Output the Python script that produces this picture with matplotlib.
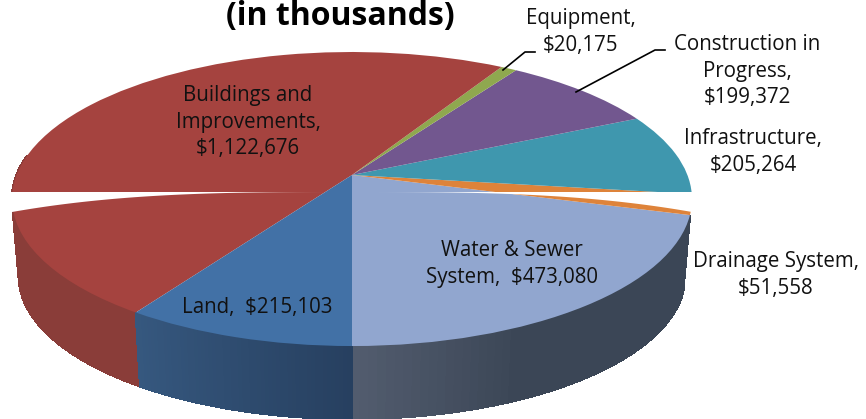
import numpy as np
from matplotlib import pyplot as plt
from matplotlib.colors import to_rgb
from matplotlib.transforms import Transform

# --------------------------- CHART DATA ---------------------------

names = ["Water & Sewer\nSystem,  ", "Drainage System,\n", "Infrastructure,\n",
         "Construction in\nProgress,\n", "Equipment,\n",
         "Buildings and\nImprovements,\n", "Land,  "]
values = [473080, 51558, 205264, 199372, 20175, 1122676, 215103]
colors = ["#91a6cf", "#de833a", "#3f97ae", "#72578f", "#8fa84f", "#a5433f", "#4271a6"]

# side wall colours, left end then right end of each visible slice
wall_colors = {0: ("#525c6e", "#3b4656"), 5: ("#8a3d39", "#8a3d39"), 6: ("#36587f", "#274060")}
wall_fade = {0: 3.0, 5: 1.0, 6: 1.0}
label_pos = [(512, 264), (776, 275), (753, 152), (747, 71), (581, 32), (248, 122), (257, 307)]

CX, CY = 352, 175
RX, RY = 335.4, 143.1
TILT = 0.1633
DEPTH = 78


class Tilted(Transform):
    """Unit disc seen from the front, nearer edge drawn larger."""
    input_dims = output_dims = 2
    is_affine = False

    def __init__(self, drop=0.0, scale_x=1.0, scale_y=1.0):
        super().__init__()
        self.drop, self.scale_x, self.scale_y = drop, scale_x, scale_y

    def transform_non_affine(self, pts):
        pts = np.asarray(pts, dtype=float)
        w = 1 + TILT * pts[:, 1]
        return np.column_stack((CX + self.scale_x * RX * pts[:, 0] / w,
                                CY + self.drop - self.scale_y * RY * pts[:, 1] / w))


fig = plt.figure(figsize=(8.66, 4.19), dpi=100)
ax = fig.add_axes([0, 0, 1, 1])
plt.rcParams['font.family'] = ['Open Sans', 'DejaVu Sans']

# --------------------------- SIDE WALLS ---------------------------

edges = 270 + np.concatenate(([0], np.cumsum(values))) / sum(values) * 360
top_rim = Tilted()
low_rim = Tilted(DEPTH, 0.98, 0.97)

for i, (start_col, end_col) in wall_colors.items():
    a0, a1 = edges[i], edges[i + 1]
    if i == 5:
        a0 = 532  # back part of the slice has no visible wall
    steps = np.linspace(a0, a1, 60)
    for j in range(len(steps) - 1):
        t = min(1.0, wall_fade[i] * j / (len(steps) - 2))
        col = np.array(to_rgb(start_col)) * (1 - t) + np.array(to_rgb(end_col)) * t
        ang = np.radians(steps[j:j + 2])
        unit = np.column_stack((np.cos(ang), np.sin(ang)))
        quad = np.vstack((top_rim.transform(unit), low_rim.transform(unit)[::-1]))
        ax.fill(quad[:, 0], quad[:, 1], color=col, lw=1, antialiased=False)

# --------------------------- TOP SURFACE ---------------------------

wedges, _ = ax.pie(values, colors=colors, startangle=270, radius=1)
for w in wedges:
    w.set_transform(top_rim + ax.transData)
    w.set_linewidth(0)

ax.set_aspect('auto')
ax.set_xlim(0, 866)
ax.set_ylim(419, 0)
ax.axis('off')

# white slit across the disc
xs = np.linspace(0, 866, 400)
slit = 192 + 20 * np.clip(np.abs(xs - CX) / 340, 0, 1.1) ** 3
ax.fill_between(xs, 192, slit, color='white', lw=0, zorder=3)

# --------------------------- TEXT ---------------------------

for name, value, (x, y) in zip(names, values, label_pos):
    ax.text(x, y, f"{name}${value:,}", ha='center', va='center', fontsize=14.8,
            linespacing=1.36, color='#111111', zorder=4)

ax.text(340, 17, "(in thousands)", ha='center', va='center', fontsize=23,
        fontweight='bold', color='black', zorder=4)

ax.plot([503, 525, 535], [70, 52, 52], color='black', lw=1.2, zorder=4)
ax.plot([576, 655, 665], [92, 50, 50], color='black', lw=1.2, zorder=4)

fig.savefig('out.png', dpi=100)
